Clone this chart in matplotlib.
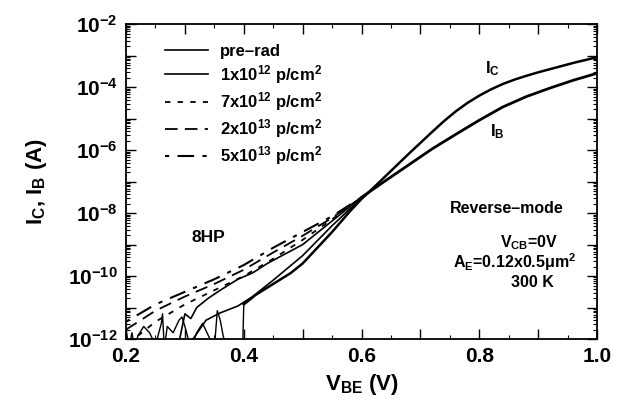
import numpy as np
import matplotlib.pyplot as plt
from matplotlib.ticker import MultipleLocator, LogLocator, NullFormatter

plt.rcParams['font.family'] = ['Liberation Sans', 'DejaVu Sans']
plt.rcParams['font.weight'] = 'bold'
plt.rcParams['mathtext.fontset'] = 'custom'
plt.rcParams['mathtext.rm'] = 'Liberation Sans:bold'
plt.rcParams['mathtext.bf'] = 'Liberation Sans:bold'
plt.rcParams['mathtext.it'] = 'Liberation Sans:bold'

# fluence labels (legend order)
labels = ['pre\u2013rad', r'1x10$^{12}$ p/cm$^2$', r'7x10$^{12}$ p/cm$^2$',
          r'2x10$^{13}$ p/cm$^2$', r'5x10$^{13}$ p/cm$^2$']

# I_B below 0.6 V, log10(A), per fluence
ib_low_v = [
    [0.31, 0.336, 0.36, 0.39, 0.415, 0.45, 0.50, 0.55, 0.60],
    [0.29, 0.30, 0.31, 0.32, 0.34, 0.36, 0.39, 0.415, 0.44, 0.47, 0.50, 0.55, 0.60],
    [0.22, 0.25, 0.30, 0.35, 0.40, 0.45, 0.50, 0.55, 0.60],
    [0.20, 0.25, 0.30, 0.35, 0.40, 0.45, 0.50, 0.55, 0.60],
    [0.20, 0.25, 0.30, 0.35, 0.40, 0.45, 0.50, 0.55, 0.60],
]
ib_low_log = [
    [-12.1, -11.4, -11.17, -10.95, -10.65, -10.13, -9.35, -8.4, -7.52],
    [-12.1, -11.2, -11.35, -11.0, -10.7, -10.45, -10.1, -9.9, -9.6, -9.3, -9.0, -8.25, -7.5],
    [-11.9, -11.45, -10.9, -10.45, -10.0, -9.45, -8.85, -8.2, -7.5],
    [-11.7, -11.1, -10.65, -10.25, -9.8, -9.25, -8.72, -8.15, -7.5],
    [-11.45, -10.9, -10.5, -10.1, -9.65, -9.1, -8.6, -8.1, -7.5],
]

# I_B above 0.6 V (all fluences overlap)
ib_high_v = [0.60, 0.64, 0.68, 0.72, 0.76, 0.80, 0.84, 0.88, 0.92, 0.96, 1.0]
ib_high_log = [-7.5, -6.98, -6.47, -5.96, -5.5, -5.05, -4.63, -4.3, -4.03, -3.78, -3.56]

# I_C (all fluences overlap)
ic_v = [0.40, 0.42, 0.45, 0.48, 0.50, 0.52, 0.55, 0.58, 0.60, 0.62, 0.64, 0.66, 0.68,
        0.70, 0.72, 0.74, 0.76, 0.78, 0.80, 0.82, 0.84, 0.86, 0.88, 0.90, 0.92, 0.94,
        0.96, 0.98, 1.0]
ic_log = [-10.9, -10.6, -10.25, -9.9, -9.6, -9.2, -8.6, -7.95, -7.55, -7.2, -6.84, -6.48,
          -6.12, -5.77, -5.42, -5.08, -4.77, -4.5, -4.27, -4.07, -3.9, -3.76, -3.64, -3.53,
          -3.43, -3.33, -3.23, -3.14, -3.05]

# measurement floor noise of I_C at low bias
noise_v = [0.200, 0.205, 0.21, 0.215, 0.22, 0.23, 0.24, 0.25, 0.26, 0.262, 0.265, 0.27,
           0.28, 0.29, 0.295, 0.30, 0.31, 0.32, 0.33, 0.34, 0.35, 0.355, 0.36, 0.365,
           0.37, 0.38, 0.39, 0.398, 0.40]
noise_log = [-11.7, -12.3, -11.8, -12.3, -11.9, -11.6, -11.8, -12.2, -11.5, -11.2, -12.3, -11.6,
             -11.8, -11.4, -11.3, -11.6, -12.3, -11.8, -11.5, -11.9, -12.3, -11.1, -11.4, -11.9,
             -12.3, -12.3, -12.3, -12.3, -10.9]

styles = ['-', '-', (0, (3, 4)), (0, (7, 4)), (0, (2, 4, 8, 4))]
widths = [1.2, 1.2, 1.3, 1.3, 1.5]

fig = plt.figure(figsize=(6.19, 4.16), dpi=100)
ax = fig.add_axes([0.2036, 0.185, 0.761, 0.757])

for i in range(5):
    ax.plot(ib_low_v[i], 10.0 ** np.array(ib_low_log[i]), color='black',
            linestyle=styles[i], linewidth=widths[i], label=labels[i])
ax.plot(ib_high_v, 10.0 ** np.array(ib_high_log), color='black', linewidth=2.0)
ax.plot(ic_v, 10.0 ** np.array(ic_log), color='black', linewidth=1.8)
ax.plot(noise_v, 10.0 ** np.array(noise_log), color='black', linewidth=1.0)

ax.set_yscale('log')
ax.set_xlim(0.2, 1.0)
ax.set_ylim(1e-12, 1e-2)

ax.xaxis.set_minor_locator(MultipleLocator(0.05))
ax.set_xticks([0.2, 0.3, 0.4, 0.5, 0.6, 0.7, 0.8, 0.9, 1.0])
ax.set_xticklabels(['0.2', '', '0.4', '', '0.6', '', '0.8', '', '1.0'])
ax.yaxis.set_minor_locator(LogLocator(base=10, subs=np.arange(2, 10), numticks=20))
ax.yaxis.set_minor_formatter(NullFormatter())
ax.set_yticks([10.0 ** k for k in range(-12, -1)])
ax.set_yticklabels([r'$10^{%d}$' % k if k % 2 == 0 else '' for k in range(-12, -1)])

ax.tick_params(which='both', direction='in', top=True, right=True)
ax.tick_params(which='major', length=7, width=1.0, labelsize=15, pad=6)
ax.tick_params(which='minor', length=3, width=0.8)
for s in ax.spines.values():
    s.set_linewidth(1.3)

ax.set_xlabel(r'V$_{\mathrm{BE}}$ (V)', fontsize=16, fontweight='bold')
ax.set_ylabel(r'I$_{\mathrm{C}}$, I$_{\mathrm{B}}$ (A)', fontsize=16, fontweight='bold', labelpad=14)

ax.legend(loc='upper left', bbox_to_anchor=(0.05, 0.985), frameon=False,
          fontsize=12, handlelength=2.6, handletextpad=0.7, labelspacing=0.25)

ax.text(0.34, 10 ** -8.76, '8HP', fontsize=12.5, ha='center', va='center')
ax.text(0.847, 10 ** -7.85, 'Reverse\u2013mode', fontsize=11.5, ha='center', va='center')
ax.text(0.885, 10 ** -8.95, r'V$_{\mathrm{CB}}$=0V', fontsize=11.5, ha='center', va='center')
ax.text(0.86, 10 ** -9.55, r'A$_{\mathrm{E}}$=0.12x0.5$\mathrm{\mu}$m$^2$', fontsize=11.5,
        ha='center', va='center')
ax.text(0.89, 10 ** -10.2, '300 K', fontsize=11.5, ha='center', va='center')
ax.text(0.823, 10 ** -3.4, r'I$_{\mathrm{C}}$', fontsize=12, ha='center', va='center')
ax.text(0.83, 10 ** -5.4, r'I$_{\mathrm{B}}$', fontsize=12, ha='center', va='center')

fig.savefig('out.png', dpi=100)
